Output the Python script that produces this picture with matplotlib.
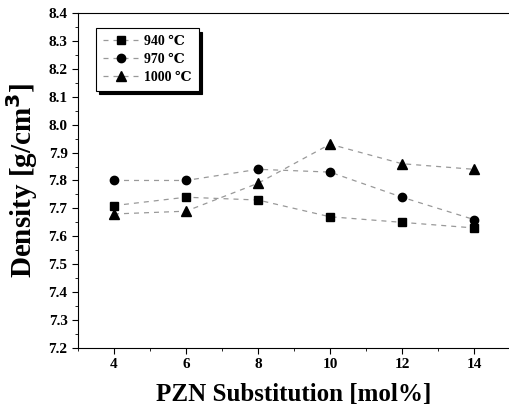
import matplotlib.pyplot as plt
from matplotlib.ticker import MultipleLocator

# PZN substitution (mol%) and density (g/cm3) for each sintering temperature
x_mol = [4, 6, 8, 10, 12, 14]
dens_940 = [7.71, 7.74, 7.73, 7.67, 7.65, 7.63]
dens_970 = [7.80, 7.80, 7.84, 7.83, 7.74, 7.66]
dens_1000 = [7.68, 7.69, 7.79, 7.93, 7.86, 7.84]
labels = ['940 ℃', '970 ℃', '1000 ℃']

plt.rcParams['font.family'] = ['Liberation Serif', 'DejaVu Serif']
plt.rcParams['font.weight'] = 'bold'

fig = plt.figure(figsize=(5.1, 4.18), dpi=100)
ax = fig.add_axes([0.153, 0.1675, 0.847, 0.8015])

line_kw = dict(color='0.6', lw=0.9, ls=(0, (4, 4)), markeredgecolor='black',
               markerfacecolor='black')
ax.plot(x_mol, dens_940, marker='s', ms=5.5, label=labels[0], **line_kw)
ax.plot(x_mol, dens_970, marker='o', ms=6, label=labels[1], **line_kw)
ax.plot(x_mol, dens_1000, marker='^', ms=6.5, label=labels[2], **line_kw)

ax.set_xlim(3, 15)
ax.set_ylim(7.2, 8.4)
ax.xaxis.set_major_locator(MultipleLocator(2))
ax.xaxis.set_minor_locator(MultipleLocator(1))
ax.yaxis.set_major_locator(MultipleLocator(0.1))
ax.yaxis.set_minor_locator(MultipleLocator(0.05))
ax.tick_params(which='both', direction='out', labelsize=11)
ax.tick_params(which='major', length=4)
ax.tick_params(which='minor', length=2)
ax.spines['right'].set_visible(False)
for lab in ax.get_xticklabels() + ax.get_yticklabels():
    lab.set_fontweight('bold')
ax.yaxis.set_major_formatter(plt.FormatStrFormatter('%.1f'))

ax.set_xlabel('PZN Substitution [mol%]', fontsize=18, fontweight='bold', labelpad=8)
ax.set_ylabel('Density [g/cm$^3$]', fontsize=21, fontweight='bold', labelpad=6)

leg = ax.legend(loc='upper left', bbox_to_anchor=(0.025, 0.975), fancybox=False,
                edgecolor='black', framealpha=1, borderpad=0.5, handlelength=2.6,
                labelspacing=0.35, handletextpad=0.4,
                prop={'size': 10, 'weight': 'bold'},
                shadow={'color': 'black', 'alpha': 1, 'ox': 2.5, 'oy': -2.5})
leg.get_frame().set_linewidth(0.8)

fig.savefig('out.png', dpi=100)
